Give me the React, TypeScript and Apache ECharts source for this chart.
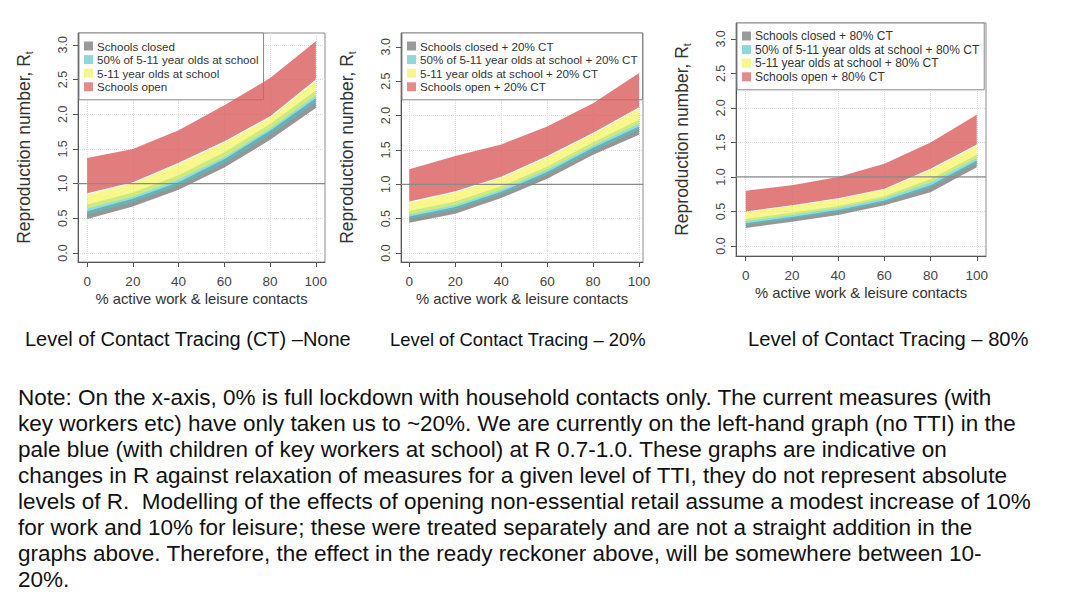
import React, { useEffect, useRef } from "react";
import * as echarts from "echarts";

// ---------- data ----------
const xValues = [0, 20, 40, 60, 80, 100];
const yTicks = [0, 0.5, 1, 1.5, 2, 2.5, 3];
const threshold = 1;

// Panel 1: no contact tracing
const p1ClosedLo = [0.49, 0.67, 0.91, 1.23, 1.63, 2.09];
const p1ClosedHi = [0.6, 0.78, 1.02, 1.35, 1.76, 2.23];
const p1HalfLo = [0.55, 0.73, 0.97, 1.29, 1.7, 2.16];
const p1HalfHi = [0.7, 0.87, 1.12, 1.45, 1.86, 2.34];
const p1FiveLo = [0.64, 0.81, 1.06, 1.38, 1.79, 2.27];
const p1FiveHi = [0.84, 1.0, 1.28, 1.59, 1.95, 2.48];
const p1OpenLo = [0.86, 1.02, 1.3, 1.61, 1.97, 2.5];
const p1OpenHi = [1.37, 1.5, 1.77, 2.13, 2.52, 3.05];

// Panel 2: 20% contact tracing
const p2ClosedLo = [0.44, 0.57, 0.8, 1.08, 1.43, 1.72];
const p2ClosedHi = [0.53, 0.67, 0.89, 1.18, 1.53, 1.84];
const p2HalfLo = [0.49, 0.63, 0.85, 1.14, 1.48, 1.79];
const p2HalfHi = [0.61, 0.75, 0.97, 1.26, 1.61, 1.94];
const p2FiveLo = [0.56, 0.7, 0.92, 1.21, 1.56, 1.88];
const p2FiveHi = [0.73, 0.88, 1.09, 1.39, 1.73, 2.1];
const p2OpenLo = [0.75, 0.9, 1.11, 1.41, 1.75, 2.12];
const p2OpenHi = [1.22, 1.41, 1.58, 1.84, 2.18, 2.62];

// Panel 3: 80% contact tracing
const p3ClosedLo = [0.26, 0.35, 0.45, 0.59, 0.78, 1.14];
const p3ClosedHi = [0.33, 0.42, 0.52, 0.66, 0.88, 1.24];
const p3HalfLo = [0.3, 0.39, 0.49, 0.63, 0.84, 1.2];
const p3HalfHi = [0.39, 0.48, 0.58, 0.72, 0.97, 1.32];
const p3FiveLo = [0.36, 0.45, 0.55, 0.69, 0.92, 1.27];
const p3FiveHi = [0.49, 0.58, 0.68, 0.82, 1.1, 1.45];
const p3OpenLo = [0.5, 0.59, 0.69, 0.83, 1.12, 1.47];
const p3OpenHi = [0.8, 0.88, 1.0, 1.19, 1.5, 1.9];

const p1Names = [
  "Schools closed",
  "50% of 5-11 year olds at school",
  "5-11 year olds at school",
  "Schools open",
];
const p2Names = [
  "Schools closed + 20% CT",
  "50% of 5-11 year olds at school + 20% CT",
  "5-11 year olds at school + 20% CT",
  "Schools open + 20% CT",
];
const p3Names = [
  "Schools closed + 80% CT",
  "50% of 5-11 year olds at school + 80% CT",
  "5-11 year olds at school + 80% CT",
  "Schools open + 80% CT",
];

const xAxisTitle = "% active work & leisure contacts";
const yAxisTitle = "Reproduction number, R{sub|t}";

const captions = [
  "Level of Contact Tracing (CT) \u2013None",
  "Level of Contact Tracing \u2013 20%",
  "Level of Contact Tracing \u2013 80%",
];

const noteLines = [
  "Note: On the x-axis, 0% is full lockdown with household contacts only. The current measures (with",
  "key workers etc) have only taken us to ~20%. We are currently on the left-hand graph (no TTI) in the",
  "pale blue (with children of key workers at school) at R 0.7-1.0. These graphs are indicative on",
  "changes in R against relaxation of measures for a given level of TTI, they do not represent absolute",
  "levels of R.  Modelling of the effects of opening non-essential retail assume a modest increase of 10%",
  "for work and 10% for leisure; these were treated separately and are not a straight addition in the",
  "graphs above. Therefore, the effect in the ready reckoner above, will be somewhere between 10-",
  "20%.",
];

// ---------- styles / layout ----------
const FONT = "'Liberation Sans', Arial, Helvetica, sans-serif";
const fills = [
  "rgba(110,110,110,0.72)",
  "rgba(70,196,202,0.6)",
  "rgba(242,242,70,0.62)",
  "rgba(219,92,92,0.8)",
];
const legendColors = ["#9a9a9a", "#8ed8dc", "#f6f68e", "#e58a8a"];

const panels = [
  {
    names: p1Names,
    bands: [
      [p1ClosedLo, p1ClosedHi],
      [p1HalfLo, p1HalfHi],
      [p1FiveLo, p1FiveHi],
      [p1OpenLo, p1OpenHi],
    ],
    grid: { left: 78, top: 33, width: 247, height: 229 },
    xr: [-4, 104],
    yr: [-0.13, 3.17],
    legendFont: 11.6,
  },
  {
    names: p2Names,
    bands: [
      [p2ClosedLo, p2ClosedHi],
      [p2HalfLo, p2HalfHi],
      [p2FiveLo, p2FiveHi],
      [p2OpenLo, p2OpenHi],
    ],
    grid: { left: 401, top: 33, width: 242, height: 229 },
    xr: [-3.6, 101.7],
    yr: [-0.13, 3.2],
    legendFont: 11.65,
  },
  {
    names: p3Names,
    bands: [
      [p3ClosedLo, p3ClosedHi],
      [p3HalfLo, p3HalfHi],
      [p3FiveLo, p3FiveHi],
      [p3OpenLo, p3OpenHi],
    ],
    grid: { left: 736, top: 23, width: 250, height: 233 },
    xr: [-4.2, 104],
    yr: [-0.145, 3.23],
    legendFont: 12,
  },
];

const captionPos = [
  { x: 25, y: 339, size: 20 },
  { x: 390, y: 339, size: 18.4 },
  { x: 748, y: 339, size: 20.2 },
];

function bandRenderer(lo: number[], hi: number[], fill: string) {
  return (params: any, api: any) => {
    if (params.dataIndex !== 0) return null;
    const pts: number[][] = [];
    for (let i = 0; i < xValues.length; i++) pts.push(api.coord([xValues[i], hi[i]]));
    for (let i = xValues.length - 1; i >= 0; i--) pts.push(api.coord([xValues[i], lo[i]]));
    return { type: "polygon", shape: { points: pts }, style: { fill } };
  };
}

function thresholdRenderer(params: any, api: any) {
  const cs = params.coordSys;
  const y = api.coord([0, api.value(1)])[1];
  return {
    type: "line",
    shape: { x1: cs.x, y1: y, x2: cs.x + cs.width, y2: y },
    style: { stroke: "#8a8a8a", lineWidth: 1.2 },
  };
}

function buildOption() {
  const grids: any[] = [];
  const xAxes: any[] = [];
  const yAxes: any[] = [];
  const legends: any[] = [];
  const series: any[] = [];

  panels.forEach((p, pi) => {
    grids.push({
      ...p.grid,
      show: true,
      borderColor: "#8c8c8c",
      borderWidth: 1,
      backgroundColor: "transparent",
    });
    xAxes.push({
      type: "value",
      gridIndex: pi,
      min: p.xr[0],
      max: p.xr[1],
      name: xAxisTitle,
      nameLocation: "middle",
      nameGap: 29,
      nameTextStyle: { fontSize: 14.8, color: "#333", fontFamily: FONT },
      axisLine: { show: true, onZero: false, lineStyle: { color: "#555", width: 1 } },
      axisTick: {
        show: true,
        inside: false,
        length: 5,
        customValues: xValues,
        lineStyle: { color: "#555" },
      },
      axisLabel: {
        customValues: xValues,
        fontSize: 13.5,
        color: "#444",
        margin: 12,
        fontFamily: FONT,
      },
      splitLine: { show: true, lineStyle: { color: "#dcdcdc", type: "dotted", width: 1 } },
    });
    yAxes.push({
      type: "value",
      gridIndex: pi,
      min: p.yr[0],
      max: p.yr[1],
      name: yAxisTitle,
      nameLocation: "middle",
      nameGap: 44,
      nameRotate: 90,
      nameTextStyle: {
        fontSize: 17.5,
        color: "#333",
        fontFamily: FONT,
        rich: {
          sub: { fontSize: 10.5, verticalAlign: "bottom", padding: [10, 0, 0, 0], color: "#333", fontFamily: FONT },
        },
      },
      axisLine: { show: true, onZero: false, lineStyle: { color: "#555", width: 1 } },
      axisTick: {
        show: true,
        inside: false,
        length: 5,
        customValues: yTicks,
        lineStyle: { color: "#555" },
      },
      axisLabel: {
        customValues: yTicks,
        rotate: 90,
        fontSize: 12.5,
        color: "#444",
        margin: 9,
        fontFamily: FONT,
        formatter: (v: number) => v.toFixed(1),
      },
      splitLine: { show: true, lineStyle: { color: "#dcdcdc", type: "dotted", width: 1 } },
    });
    legends.push({
      data: p.names,
      orient: "vertical",
      left: p.grid.left + 1,
      top: p.grid.top,
      icon: "rect",
      itemWidth: 9,
      itemHeight: 9,
      itemGap: 1.6,
      padding: [7, 5, 7, 5],
      backgroundColor: "#ffffff",
      borderColor: "#888",
      borderWidth: 1,
      borderRadius: 0,
      selectedMode: false,
      textStyle: {
        fontSize: p.legendFont,
        lineHeight: 11,
        color: "#333",
        fontFamily: FONT,
        padding: [0, 0, 0, -1],
      },
    });
    p.bands.forEach((band, bi) => {
      const lo = band[0];
      const hi = band[1];
      series.push({
        type: "custom",
        name: p.names[bi],
        xAxisIndex: pi,
        yAxisIndex: pi,
        data: xValues.map((x, i) => [x, lo[i], hi[i]]),
        encode: { x: 0, y: [1, 2] },
        itemStyle: { color: legendColors[bi] },
        renderItem: bandRenderer(lo, hi, fills[bi]),
        silent: true,
        z: 2 + bi,
      });
    });
    series.push({
      type: "custom",
      name: "threshold-" + pi,
      xAxisIndex: pi,
      yAxisIndex: pi,
      data: [[0, threshold]],
      encode: { x: 0, y: 1 },
      renderItem: thresholdRenderer,
      silent: true,
      z: 8,
    });
  });

  const graphics: any[] = [];
  captions.forEach((c, i) => {
    graphics.push({
      type: "text",
      x: captionPos[i].x,
      y: captionPos[i].y,
      style: {
        text: c,
        fontSize: captionPos[i].size,
        fontFamily: FONT,
        fill: "#111",
        verticalAlign: "middle",
        align: "left",
      },
    });
  });
  noteLines.forEach((line, i) => {
    graphics.push({
      type: "text",
      x: 18,
      y: 397 + i * 26,
      style: {
        text: line,
        fontSize: 22.5,
        fontFamily: FONT,
        fill: "#111",
        verticalAlign: "middle",
        align: "left",
      },
    });
  });

  return {
    animation: false,
    backgroundColor: "#ffffff",
    textStyle: { fontFamily: FONT },
    grid: grids,
    xAxis: xAxes,
    yAxis: yAxes,
    legend: legends,
    series,
    graphic: graphics,
  };
}

export default function App() {
  const ref = useRef<HTMLDivElement>(null);
  useEffect(() => {
    document.body.style.margin = "0";
    if (!ref.current) return;
    const chart = echarts.init(ref.current, undefined, { renderer: "svg" });
    chart.setOption(buildOption() as any);
    return () => chart.dispose();
  }, []);
  return <div ref={ref} style={{ width: 1067, height: 598 }} />;
}
